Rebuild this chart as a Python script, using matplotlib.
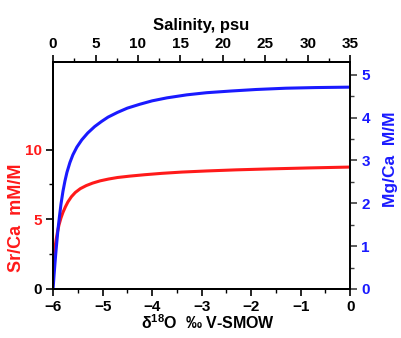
import matplotlib
matplotlib.use("Agg")
import matplotlib.pyplot as plt
from matplotlib.ticker import MultipleLocator

plt.rcParams['font.family'] = ['Liberation Sans', 'DejaVu Sans']
plt.rcParams['font.weight'] = 'bold'
plt.rcParams['mathtext.fontset'] = 'custom'
plt.rcParams['mathtext.rm'] = 'Liberation Sans:bold'
plt.rcParams['mathtext.it'] = 'Liberation Sans:bold'
plt.rcParams['mathtext.bf'] = 'Liberation Sans:bold'

# ---- data ----
d18o_sr = [-6.0, -5.98, -5.96, -5.94, -5.91, -5.88, -5.84, -5.8, -5.75, -5.7,
           -5.63, -5.55, -5.45, -5.33, -5.2, -5.05, -4.88, -4.7, -4.45, -4.15,
           -3.8, -3.4, -2.9, -2.3, -1.6, -0.8, 0.0]
sr_ca = [1.65, 2.4, 3.0, 3.5, 4.1, 4.6, 5.1, 5.5, 5.9, 6.25,
         6.62, 6.93, 7.2, 7.42, 7.6, 7.76, 7.89, 8.0, 8.1, 8.2,
         8.3, 8.39, 8.47, 8.55, 8.62, 8.69, 8.75]

d18o_mg = [-6.0, -5.98, -5.96, -5.94, -5.92, -5.9, -5.87, -5.84, -5.8, -5.76,
           -5.72, -5.66, -5.6, -5.52, -5.42, -5.3, -5.16, -5.02, -4.89, -4.7,
           -4.5, -4.25, -4.0, -3.7, -3.3, -2.9, -2.4, -1.9, -1.3, -0.7, 0.0]
mg_ca = [0.0, 0.32, 0.62, 0.9, 1.15, 1.4, 1.7, 1.98, 2.28, 2.52,
         2.72, 2.95, 3.13, 3.31, 3.48, 3.64, 3.79, 3.91, 4.01, 4.12,
         4.22, 4.31, 4.39, 4.46, 4.53, 4.58, 4.62, 4.655, 4.685, 4.70, 4.71]

RED = '#ff1a1a'
BLUE = '#1a1aff'
GREY = '#404040'

fig = plt.figure(figsize=(4.02, 3.38), dpi=100)
ax = fig.add_axes([0.132, 0.145, 0.739, 0.672])
ax2 = ax.twinx()
ax3 = ax.twiny()

ax.plot(d18o_sr, sr_ca, color=RED, lw=2.2, solid_capstyle='butt')
ax2.plot(d18o_mg, mg_ca, color=BLUE, lw=2.2, solid_capstyle='butt')

ax.set_xlim(-6, 0)
ax.set_ylim(0, 16.3)
ax2.set_ylim(0, 5.3)
ax3.set_xlim(0, 35)

ax.xaxis.set_major_locator(MultipleLocator(1))
ax.xaxis.set_minor_locator(MultipleLocator(0.5))
ax.set_yticks([0, 5, 10])
ax.set_yticks([2.5, 7.5], minor=True)
ax2.yaxis.set_major_locator(MultipleLocator(1))
ax2.yaxis.set_minor_locator(MultipleLocator(0.5))
ax3.xaxis.set_major_locator(MultipleLocator(5))
ax3.xaxis.set_minor_locator(MultipleLocator(2.5))

for a in (ax, ax2, ax3):
    a.tick_params(which='major', direction='out', length=5, width=1.2,
                  labelsize=11, pad=3)
    a.tick_params(which='minor', direction='out', length=3, width=1.0)
    for s in a.spines.values():
        s.set_linewidth(1.3)

ax.spines['right'].set_color(GREY)
ax2.spines['right'].set_color(GREY)
ax2.tick_params(axis='y', which='both', colors=GREY, labelcolor=BLUE)
ax.tick_params(axis='y', labelcolor=RED)
ax.get_yticklabels()[0].set_color('black')

ax.set_xlabel(r'$\mathregular{\delta^{18}}$O  ‰ V-SMOW', fontsize=11.5,
              fontweight='bold', labelpad=2)
ax.xaxis.set_label_coords(0.52, -0.105)
ax.set_ylabel('Sr/Ca  mM/M', fontsize=13, fontweight='bold', color=RED)
ax.yaxis.set_label_coords(-0.094, 0.313)
ax2.set_ylabel('Mg/Ca  M/M', fontsize=12.5, fontweight='bold', color=BLUE)
ax2.yaxis.set_label_coords(1.111, 0.573)
ax3.set_xlabel('Salinity, psu', fontsize=12, fontweight='bold', labelpad=5)

fig.savefig('out.png', dpi=100)
